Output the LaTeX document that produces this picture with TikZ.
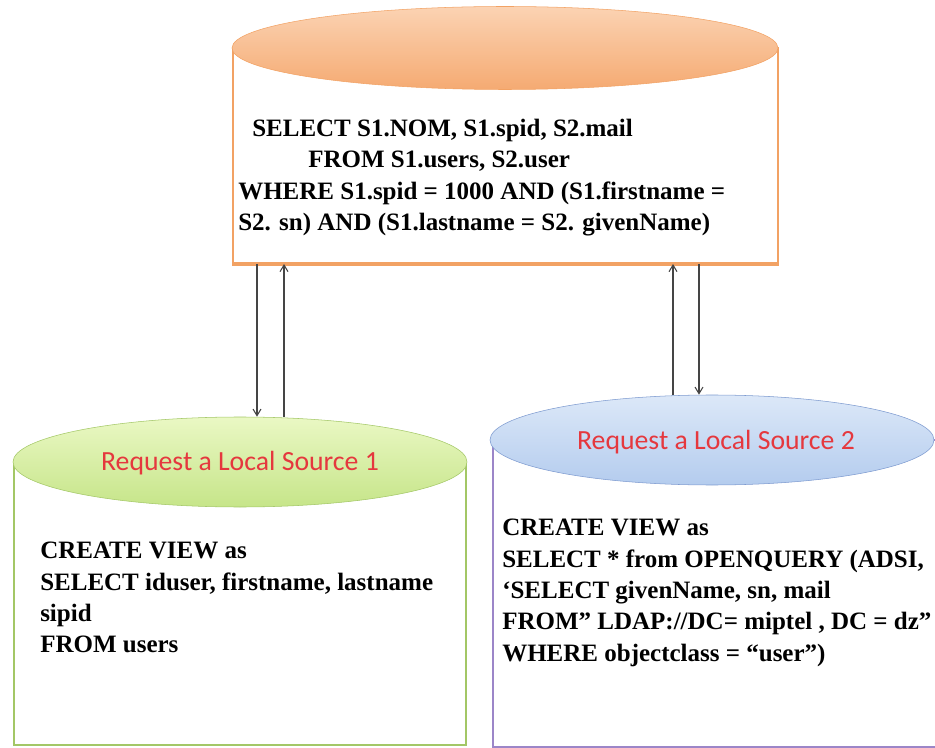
\documentclass[tikz,border=0pt]{standalone}
\usepackage{fontspec}
\setmainfont{Liberation Serif}
\newfontfamily\labelfont{Carlito}
\usetikzlibrary{shapes.geometric,arrows.meta}

\definecolor{orangeedge}{HTML}{F2A264}
\definecolor{orangelight}{HTML}{FBD3B3}
\definecolor{orangedark}{HTML}{F5AA72}
\definecolor{greenedge}{HTML}{A3C766}
\definecolor{greenlight}{HTML}{EAF8C4}
\definecolor{greendark}{HTML}{C6E589}
\definecolor{blueedge}{HTML}{7E9BD0}
\definecolor{bluelight}{HTML}{DCE8F8}
\definecolor{bluedark}{HTML}{B4CCEE}
\definecolor{violetedge}{HTML}{9C86C8}
\definecolor{labelred}{HTML}{E5383E}
\definecolor{arrowgray}{HTML}{454545}

\begin{document}
\begin{tikzpicture}[x=0.75pt,y=-0.75pt,
  sqltext/.style={anchor=north west, inner sep=0pt, align=left,
    font=\fontsize{18.75}{23.5}\selectfont\bfseries},
  sourcelabel/.style={font=\labelfont\fontsize{20.8}{24}\selectfont, text=labelred},
  flow/.style={-{Straight Barb[length=5pt,width=6pt]}, draw=arrowgray, line width=0.8pt}]
  \useasboundingbox (0,0) rectangle (935,748);

  % Draw the global query block
  \node[draw=orangeedge, line width=1.5pt, minimum width=408.75pt, minimum height=161.25pt] (topbody) at (505.5,155.5) {};
  \draw[orangeedge, line width=3pt] (topbody.south west) -- (topbody.south east);
  \node[ellipse, draw=orangeedge, top color=orangelight, bottom color=orangedark,
    minimum width=409.5pt, minimum height=62.25pt] (topcap) at (505,48) {};
  \node[sqltext] (topsql) at (238,119) {\hspace*{10.5pt}SELECT S1.NOM, S1.spid, S2.mail\\
    \hspace*{52.5pt}FROM S1.users, S2.user\\
    WHERE S1.spid = 1000 AND (S1.firstname =\\
    S2. sn) AND (S1.lastname = S2. givenName)};

  % Draw the first local source
  \node[draw=greenedge, line width=1.5pt, minimum width=339pt, minimum height=212.25pt] (lbody) at (240,603.5) {};
  \node[ellipse, draw=greenedge, top color=greenlight, bottom color=greendark,
    minimum width=340.5pt, minimum height=67.5pt] (lcap) at (240,462) {};
  \node[sourcelabel] (llabel) at (240,463) {Request a Local Source 1};
  \node[sqltext] (lsql) at (40,542) {CREATE VIEW as\\
    SELECT iduser, firstname, lastname\\
    sipid\\
    FROM users};

  % Draw the second local source
  \node[draw=violetedge, line width=1.5pt, minimum width=335.25pt, minimum height=230.25pt] (rbody) at (716.5,593.5) {};
  \node[ellipse, draw=blueedge, top color=bluelight, bottom color=bluedark,
    minimum width=333pt, minimum height=67.5pt] (rcap) at (712,440) {};
  \node[sourcelabel] (rlabel) at (716,442) {Request a Local Source 2};
  \node[sqltext] (rsql) at (502,519) {CREATE VIEW as\\
    SELECT * from OPENQUERY (ADSI,\\
    `SELECT givenName, sn, mail\\
    FROM'' LDAP://DC= miptel , DC = dz''\\
    WHERE objectclass = ``user'')};

  % Requests and answers
  \draw[flow] (257,0 |- topbody.south) -- (257,0 |- lcap.north);
  \draw[flow] (284,0 |- lcap.north) -- (284,0 |- topbody.south);
  \draw[flow] (673,0 |- rcap.north) -- (673,0 |- topbody.south);
  \draw[flow] (699,0 |- topbody.south) -- (699,0 |- rcap.north);
\end{tikzpicture}
\end{document}
